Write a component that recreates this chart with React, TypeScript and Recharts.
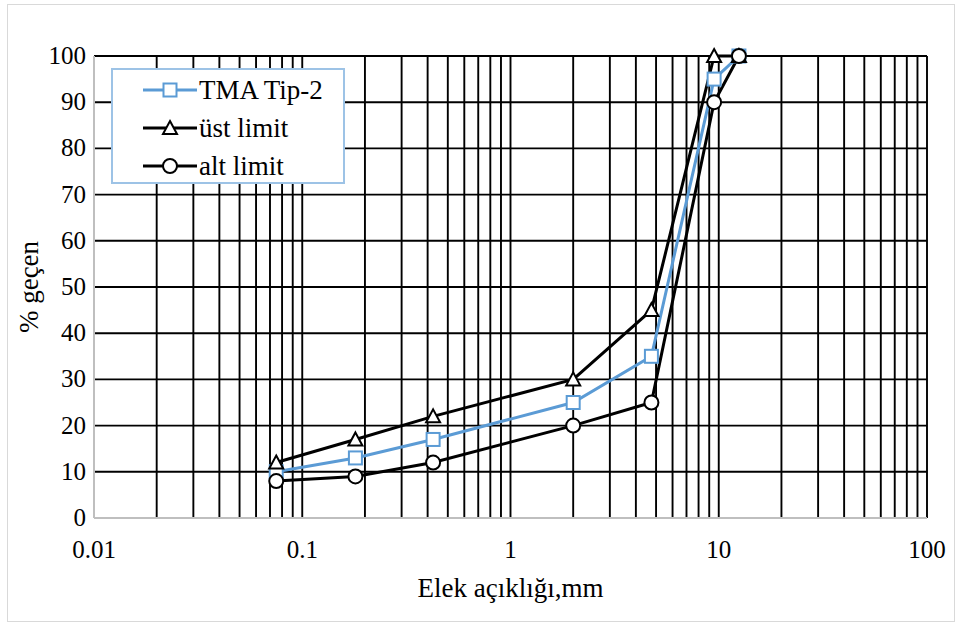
import React from 'react';
import { ComposedChart, Line, XAxis, YAxis, CartesianGrid } from 'recharts';

const sieveSizes = [0.075, 0.18, 0.425, 2, 4.75, 9.5, 12.5];
const tmaTip2 = [10, 13, 17, 25, 35, 95, 100];
const ustLimit = [12, 17, 22, 30, 45, 100, 100];
const altLimit = [8, 9, 12, 20, 25, 90, 100];
const xTicks = [
  0.01, 0.02, 0.03, 0.04, 0.05, 0.06, 0.07, 0.08, 0.09,
  0.1, 0.2, 0.3, 0.4, 0.5, 0.6, 0.7, 0.8, 0.9,
  1, 2, 3, 4, 5, 6, 7, 8, 9,
  10, 20, 30, 40, 50, 60, 70, 80, 90, 100,
];
const xLabelTicks = [0.01, 0.1, 1, 10, 100];
const yTicks = [0, 10, 20, 30, 40, 50, 60, 70, 80, 90, 100];

const data = sieveSizes.map((x, i) => ({ x, tma: tmaTip2[i], ust: ustLimit[i], alt: altLimit[i] }));

const FONT = '"Liberation Serif", "Times New Roman", serif';
const BLUE = '#5B9BD5';
const TICK_SIZE = 25;

const SquareDot = (props: any) => {
  const { cx, cy } = props;
  if (cx == null || cy == null) return null;
  return <rect x={cx - 6.5} y={cy - 6.5} width={13} height={13} fill="#fff" stroke={BLUE} strokeWidth={2} />;
};
const TriangleDot = (props: any) => {
  const { cx, cy } = props;
  if (cx == null || cy == null) return null;
  return <polygon points={`${cx},${cy - 7} ${cx + 7},${cy + 6} ${cx - 7},${cy + 6}`} fill="#fff" stroke="#000" strokeWidth={2} />;
};
const CircleDot = (props: any) => {
  const { cx, cy } = props;
  if (cx == null || cy == null) return null;
  return <circle cx={cx} cy={cy} r={7} fill="#fff" stroke="#000" strokeWidth={2} />;
};

const XTick = (props: any) => {
  const { x, y, payload } = props;
  const v = payload.value;
  if (!xLabelTicks.some((t) => Math.abs(t - v) < 1e-9)) return null;
  return (
    <text x={x} y={y + 32} textAnchor="middle" fill="#000" fontFamily={FONT} fontSize={TICK_SIZE}>
      {String(v)}
    </text>
  );
};
const YTick = (props: any) => {
  const { x, y, payload } = props;
  return (
    <text x={x + 2} y={y + 8} textAnchor="end" fill="#000" fontFamily={FONT} fontSize={TICK_SIZE}>
      {String(payload.value)}
    </text>
  );
};

const legendItems = [
  { name: 'TMA Tip-2', color: BLUE, marker: 'square' },
  { name: 'üst limit', color: '#000', marker: 'triangle' },
  { name: 'alt limit', color: '#000', marker: 'circle' },
];

const LegendBox = () => (
  <div
    style={{
      position: 'absolute',
      left: 111,
      top: 68,
      width: 234,
      height: 116,
      border: '2px solid #9DC3E6',
      background: '#fff',
      boxSizing: 'border-box',
      fontFamily: FONT,
      fontSize: 27,
      paddingTop: 1,
    }}
  >
    {legendItems.map((it) => (
      <div key={it.name} style={{ display: 'flex', alignItems: 'center', height: 38 }}>
        <svg width={86} height={30} style={{ flex: 'none' }}>
          <line x1={30} x2={84} y1={15} y2={15} stroke={it.color} strokeWidth={3} />
          {it.marker === 'square' && <rect x={50.5} y={8.5} width={13} height={13} fill="#fff" stroke={BLUE} strokeWidth={2} />}
          {it.marker === 'triangle' && <polygon points="57,8 64,21 50,21" fill="#fff" stroke="#000" strokeWidth={2} />}
          {it.marker === 'circle' && <circle cx={57} cy={15} r={7} fill="#fff" stroke="#000" strokeWidth={2} />}
        </svg>
        <span style={{ lineHeight: '30px', color: '#000' }}>{it.name}</span>
      </div>
    ))}
  </div>
);

export default function App() {
  return (
    <div style={{ position: 'absolute', left: 0, top: 0, width: 959, height: 630, background: '#fff', fontFamily: FONT }}>
      <div style={{ position: 'absolute', left: 7, top: 4, width: 948, height: 618, border: '1px solid #d9d9d9', boxSizing: 'border-box' }} />
      <ComposedChart
        width={959}
        height={630}
        data={data}
        margin={{ top: 56, right: 32, bottom: 0, left: 0 }}
        style={{ fontFamily: FONT }}
      >
        <CartesianGrid stroke="#000" strokeWidth={1.9} horizontal vertical />
        <XAxis
          dataKey="x"
          type="number"
          scale="log"
          domain={[0.01, 100]}
          ticks={xTicks}
          interval={0}
          tickLine={false}
          axisLine={{ stroke: '#bfbfbf', strokeWidth: 2 }}
          tick={<XTick />}
          height={112}
          allowDataOverflow
          label={{ value: 'Elek açıklığı,mm', position: 'insideBottom', offset: 33, fill: '#000', fontSize: 27, fontFamily: FONT }}
        />
        <YAxis
          type="number"
          domain={[0, 100]}
          ticks={yTicks}
          interval={0}
          tickLine={false}
          tickMargin={4}
          axisLine={{ stroke: '#bfbfbf', strokeWidth: 2 }}
          tick={<YTick />}
          width={94}
          label={{ value: '% geçen', angle: -90, position: 'insideLeft', offset: 28, fill: '#000', fontSize: 27, fontFamily: FONT, style: { textAnchor: 'middle' } }}
        />
        <Line dataKey="tma" name="TMA Tip-2" stroke={BLUE} strokeWidth={3} dot={<SquareDot />} activeDot={false} isAnimationActive={false} />
        <Line dataKey="ust" name="üst limit" stroke="#000" strokeWidth={3} dot={<TriangleDot />} activeDot={false} isAnimationActive={false} />
        <Line dataKey="alt" name="alt limit" stroke="#000" strokeWidth={3} dot={<CircleDot />} activeDot={false} isAnimationActive={false} />
      </ComposedChart>
      <LegendBox />
    </div>
  );
}
